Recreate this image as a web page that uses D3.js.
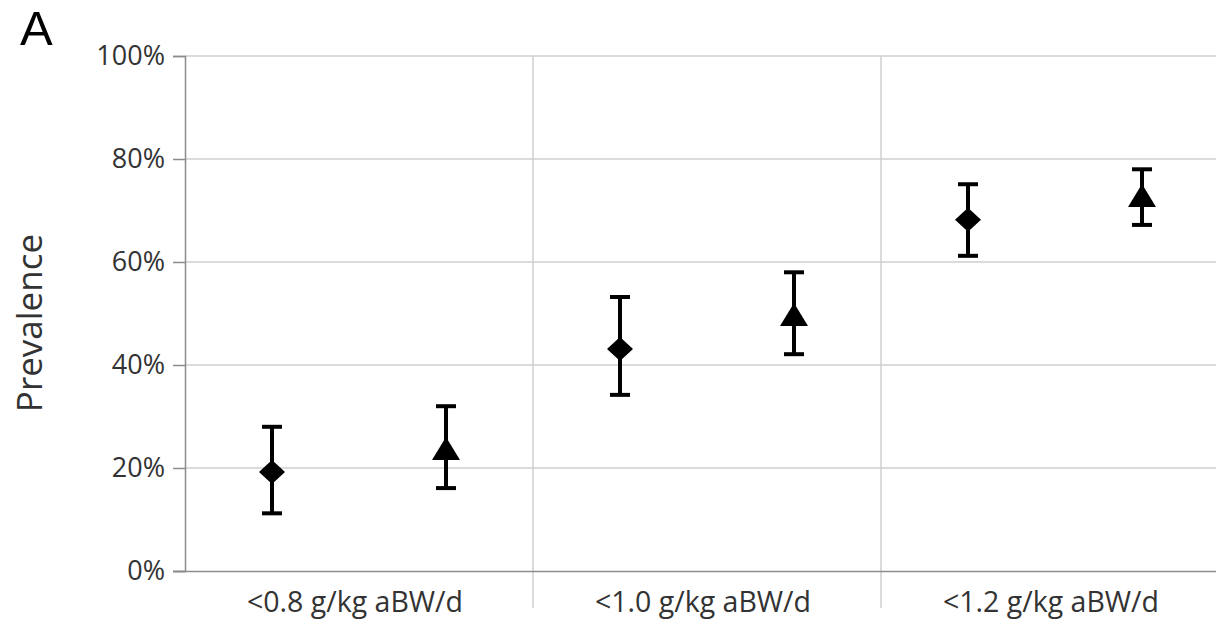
<!DOCTYPE html>
<html><head><meta charset="utf-8">
<script src="https://cdn.jsdelivr.net/npm/d3@7"></script>
<style>body{margin:0;background:#fff}svg{display:block}</style>
</head><body>
<svg id="c" width="1216" height="623"></svg>
<script>
const categories = ["<0.8 g/kg aBW/d", "<1.0 g/kg aBW/d", "<1.2 g/kg aBW/d"];
const diamondValues = [19.2, 43.1, 68.2];
const diamondLower = [11.2, 34.2, 61.2];
const diamondUpper = [28.0, 53.2, 75.1];
const triangleValues = [23.5, 49.5, 72.6];
const triangleLower = [16.1, 42.1, 67.2];
const triangleUpper = [32.0, 58.0, 78.0];
const yTicks = [0, 20, 40, 60, 80, 100];

const svg = d3.select("#c");
const L = 185, R = 1229, T = 56, B = 571;
const x = d3.scaleBand().domain(categories).range([L, R]).padding(0);
const y = d3.scaleLinear().domain([0, 100]).range([B, T]);
const font = "'Open Sans', 'Liberation Sans', sans-serif";

// horizontal gridlines
svg.append("g").selectAll("line").data(yTicks.filter(d => d > 0)).join("line")
  .attr("x1", L).attr("x2", R).attr("y1", d => y(d)).attr("y2", d => y(d))
  .attr("stroke", "#cfcfcf").attr("stroke-width", 1.5);
// vertical category separators (extend below axis as ticks)
svg.append("g").selectAll("line").data(categories.slice(1)).join("line")
  .attr("x1", d => x(d)).attr("x2", d => x(d)).attr("y1", T).attr("y2", B + 37)
  .attr("stroke", "#cfcfcf").attr("stroke-width", 1.5);

// y axis
const yAxis = svg.append("g").attr("transform", `translate(${L},0)`)
  .call(d3.axisLeft(y).tickValues(yTicks).tickFormat(d => d + "%").tickSize(12).tickPadding(8));
yAxis.select(".domain").attr("stroke", "#8c8c8c").attr("stroke-width", 1.5);
yAxis.selectAll(".tick line").attr("stroke", "#8c8c8c").attr("stroke-width", 1.5);
yAxis.selectAll("text").attr("font-family", font).attr("font-size", 27).attr("fill", "#333");

// x axis
const xAxis = svg.append("g").attr("transform", `translate(0,${B})`)
  .call(d3.axisBottom(x).tickSize(0).tickPadding(21));
xAxis.select(".domain").attr("stroke", "#8c8c8c").attr("stroke-width", 1.5).attr("d", `M${L - 12},0.5H${R}`);
xAxis.selectAll("text").attr("font-family", font).attr("font-size", 28.5).attr("fill", "#333")
  .attr("dx", -4);

// y title
svg.append("text").attr("transform", "translate(42,323) rotate(-90)")
  .attr("text-anchor", "middle").attr("font-family", font).attr("font-size", 35).attr("fill", "#333")
  .text("Prevalence");
// panel label
svg.append("text").attr("x", 20).attr("y", 45).attr("font-family", "'Liberation Sans', Arial, sans-serif")
  .attr("font-size", 49).attr("fill", "#000")
  .text("A");

function drawSeries(vals, lo, hi, frac, shape) {
  const g = svg.append("g");
  categories.forEach((c, i) => {
    const cx = x(c) + x.bandwidth() * frac;
    g.append("line").attr("x1", cx).attr("x2", cx).attr("y1", y(hi[i])).attr("y2", y(lo[i]))
      .attr("stroke", "#000").attr("stroke-width", 4);
    [hi[i], lo[i]].forEach(v => {
      g.append("line").attr("x1", cx - 10).attr("x2", cx + 10).attr("y1", y(v)).attr("y2", y(v))
        .attr("stroke", "#000").attr("stroke-width", 4);
    });
    const cy = y(vals[i]);
    if (shape === "diamond") {
      g.append("path").attr("d", `M${cx},${cy - 12}L${cx + 13},${cy}L${cx},${cy + 12}L${cx - 13},${cy}Z`).attr("fill", "#000");
    } else {
      g.append("path").attr("d", `M${cx},${cy - 13}L${cx + 14},${cy + 10}L${cx - 14},${cy + 10}Z`).attr("fill", "#000");
    }
  });
}
drawSeries(diamondValues, diamondLower, diamondUpper, 0.25, "diamond");
drawSeries(triangleValues, triangleLower, triangleUpper, 0.75, "triangle");
</script>
</body></html>
